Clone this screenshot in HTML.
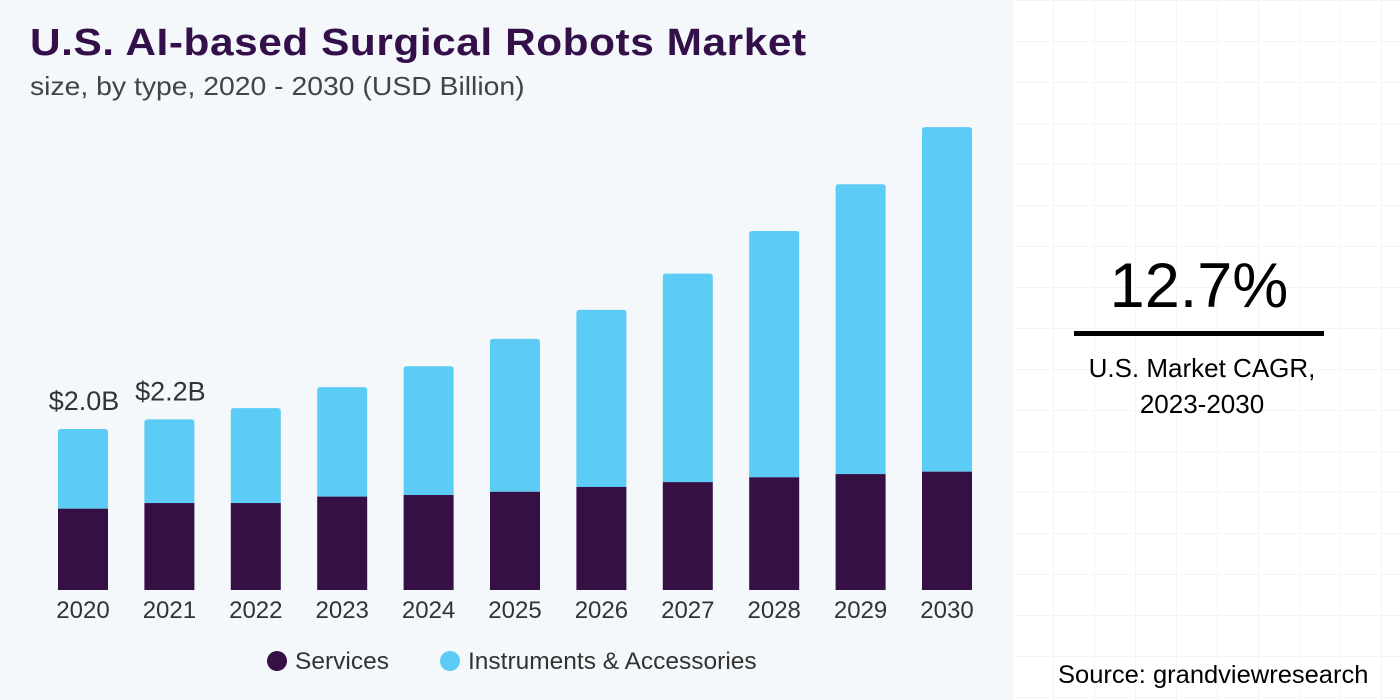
<!DOCTYPE html>
<html><head><meta charset="utf-8"><style>
html,body{margin:0;padding:0;width:1400px;height:700px;overflow:hidden;background:#fff;font-family:"Liberation Sans",sans-serif}
#left{position:absolute;left:0;top:0;width:1012px;height:700px;background:#f4f8fb}
#grid{position:absolute;left:1012px;top:0;width:388px;height:700px;background-image:linear-gradient(#f5f5f5 1px,transparent 1px),linear-gradient(90deg,#f5f5f5 1px,transparent 1px);background-size:41px 41px}
.t{position:absolute;white-space:nowrap}
</style></head><body>
<div id="left"></div>
<div id="grid"></div>
<div class="t" style="left:30px;top:22px;font-size:38px;font-weight:900;color:#34104a;letter-spacing:0.5px;transform:scaleX(1.115);transform-origin:left">U.S. AI-based Surgical Robots Market</div>
<div class="t" style="left:30px;top:71px;font-size:26px;color:#444;transform:scaleX(1.09);transform-origin:left">size, by type, 2020 - 2030 (USD Billion)</div>
<svg id="chart" width="1012" height="700" style="position:absolute;left:0;top:0"></svg>
<div class="t" style="left:1074px;top:250px;width:250px;text-align:center;font-size:63px;color:#000">12.7%</div>
<div style="position:absolute;left:1074px;top:331px;width:250px;height:5px;background:#000"></div>
<div class="t" style="left:1064px;top:350px;width:276px;text-align:center;font-size:26px;line-height:36px;color:#000">U.S. Market CAGR,<br>2023-2030</div>
<div class="t" style="left:1058px;top:661px;font-size:25px;color:#000;transform:scaleX(1.02);transform-origin:left">Source: grandviewresearch</div>
<script>
const years=['2020','2021','2022','2023','2024','2025','2026','2027','2028','2029','2030'];
const services=[1.01,1.08,1.08,1.16,1.18,1.22,1.28,1.34,1.40,1.44,1.47];
const instruments=[0.99,1.04,1.18,1.36,1.60,1.90,2.20,2.59,3.06,3.60,4.28];
const valueLabels=['$2.0B','$2.2B'];
const NS='http://www.w3.org/2000/svg';
const svg=document.getElementById('chart');
const base=590,pxPerB=80.5,x0=83,step=86.4,bw=50;
const y=v=>base-v*pxPerB;
const xc=i=>x0+i*step;
function mk(t,a){const e=document.createElementNS(NS,t);for(const k in a)e.setAttribute(k,a[k]);svg.appendChild(e);return e;}
years.forEach((yr,i)=>{
  const s=services[i],tot=s+instruments[i];
  const top=y(tot),mid=y(s);
  const p=mk('path',{d:`M${xc(i)-bw/2},${mid} V${top+3} Q${xc(i)-bw/2},${top} ${xc(i)-bw/2+3},${top} H${xc(i)+bw/2-3} Q${xc(i)+bw/2},${top} ${xc(i)+bw/2},${top+3} V${mid} Z`,fill:'#5ccbf5'});
  
  
  const r=mk('rect',{x:xc(i)-bw/2,y:mid,width:bw,height:base-mid,fill:'#341044'});
  
  
  const t=mk('text',{x:xc(i),y:618,'text-anchor':'middle','font-size':24,fill:'#333','font-family':'Liberation Sans'});
  t.textContent=yr;
  
  
  if(i<valueLabels.length){
    const l=mk('text',{x:xc(i)+1,y:top-19,'text-anchor':'middle','font-size':27,fill:'#333','font-family':'Liberation Sans'});
    l.textContent=valueLabels[i];
    
    
  }
});
const legend=[['Services','#341044',277,295],['Instruments & Accessories','#5ccbf5',450,468]];
legend.forEach(([n,c,cx,tx])=>{
  const g=mk('g',{});
  
  
  const ci=document.createElementNS(NS,'circle');ci.setAttribute('cx',cx);ci.setAttribute('cy',661);ci.setAttribute('r',10);ci.setAttribute('fill',c);g.appendChild(ci);
  const t=document.createElementNS(NS,'text');t.setAttribute('x',tx);t.setAttribute('y',669);t.setAttribute('font-size',24.5);t.setAttribute('fill','#333');t.setAttribute('font-family','Liberation Sans');t.textContent=n;g.appendChild(t);
});
</script>
</body></html>
